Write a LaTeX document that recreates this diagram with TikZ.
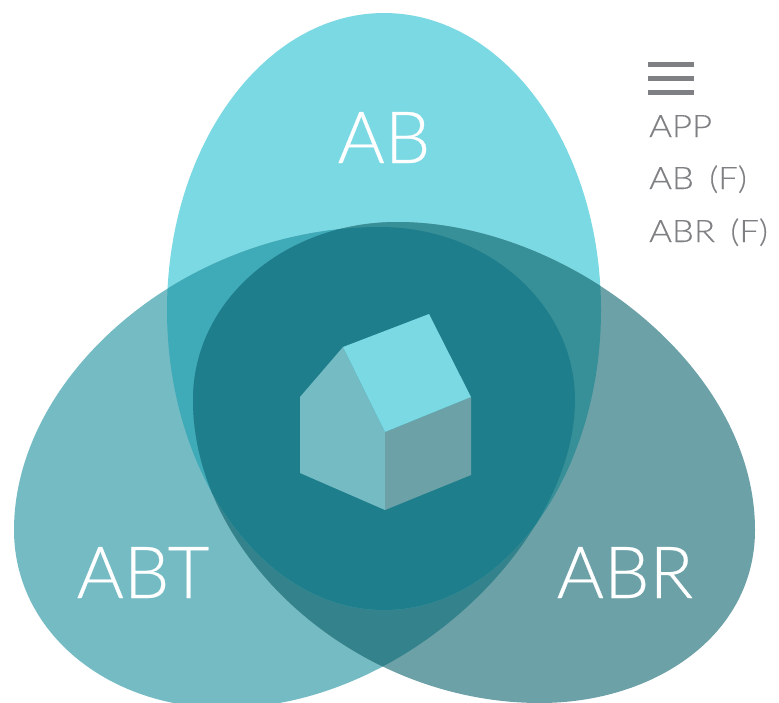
\documentclass[tikz,border=0pt]{standalone}
\usepackage{fontspec}
\setmainfont{Lato Light}
\newfontfamily\bigfont[FakeBold=0.35]{Lato Light}
\newfontfamily\legendfont[FakeStretch=1.12,FakeBold=0.25]{Lato Light}
\definecolor{cTop}{HTML}{7AD9E3}
\definecolor{cLeft}{HTML}{74BBC4}
\definecolor{cRight}{HTML}{6DA1A8}
\definecolor{cTL}{HTML}{3FABB8}
\definecolor{cTR}{HTML}{379098}
\definecolor{cLR}{HTML}{34838C}
\definecolor{cAll}{HTML}{1F7E8C}
\definecolor{cGrey}{HTML}{7F8083}
\newcommand{\eggTop}{(384,13) .. controls (504,13) and (601,146) .. (601,310) .. controls (601,475) and (504,610) .. (384,610) .. controls (264,610) and (167,475) .. (167,310) .. controls (167,146) and (264,13) .. (384,13) -- cycle}
\newcommand{\eggLeft}{(380,227) .. controls (488,227) and (575,305) .. (575,400) .. controls (575,540) and (405,708) .. (225,708) .. controls (105,708) and (14,630) .. (14,530) .. controls (14,375) and (185,227) .. (380,227) -- cycle}
\newcommand{\eggRight}{(397,222) .. controls (565,222) and (755,365) .. (755,530) .. controls (755,635) and (655,703) .. (540,703) .. controls (355,703) and (193,555) .. (193,400) .. controls (193,300) and (285,222) .. (397,222) -- cycle}
\tikzset{
  biglabel/.style={text=white,font=\bigfont\fontsize{72}{72}\selectfont,inner sep=0pt,anchor=base},
  legendlabel/.style={text=cGrey,font=\legendfont\fontsize{31}{31}\selectfont,inner sep=0pt,anchor=base west},
  legendbar/.style={fill=cGrey,draw=none}
}
\begin{document}
\begin{tikzpicture}[x=1pt,y=-1pt]
\clip (0,0) rectangle (779,702);
\fill[white] (0,0) rectangle (779,702);
% single regions
\fill[cTop] \eggTop;
\fill[cLeft] \eggLeft;
\fill[cRight] \eggRight;
% pair overlaps
\begin{scope}\clip \eggLeft; \fill[cLR] \eggRight; \end{scope}
\begin{scope}\clip \eggTop; \fill[cTL] \eggLeft; \end{scope}
\begin{scope}\clip \eggTop; \fill[cTR] \eggRight; \end{scope}
% triple overlap
\begin{scope}\clip \eggTop; \clip \eggLeft; \fill[cAll] \eggRight; \end{scope}
% house
\fill[cLeft] (300,473) -- (300,397) -- (343,347) -- (385,432) -- (385,510) -- cycle;
\fill[cRight] (385,432) -- (471,397) -- (471,475) -- (385,510) -- cycle;
\fill[cTop] (343,347) -- (429,314) -- (471,397) -- (385,432) -- cycle;
% labels
\node[biglabel] (ab) at (384,163) {AB};
\node[biglabel] (abt) at (143,598) {ABT};
\node[biglabel] (abr) at (625,598) {ABR};
% legend
\fill[legendbar] (648,62) rectangle (694,67);
\fill[legendbar] (648,76) rectangle (694,81);
\fill[legendbar] (648,90) rectangle (694,95);
\node[legendlabel] (l1) at (649,137) {APP};
\node[legendlabel] (l2) at (649,189) {AB\hspace{6pt} (F)};
\node[legendlabel] (l3) at (649,242) {ABR\hspace{6pt} (F)};
\end{tikzpicture}
\end{document}
